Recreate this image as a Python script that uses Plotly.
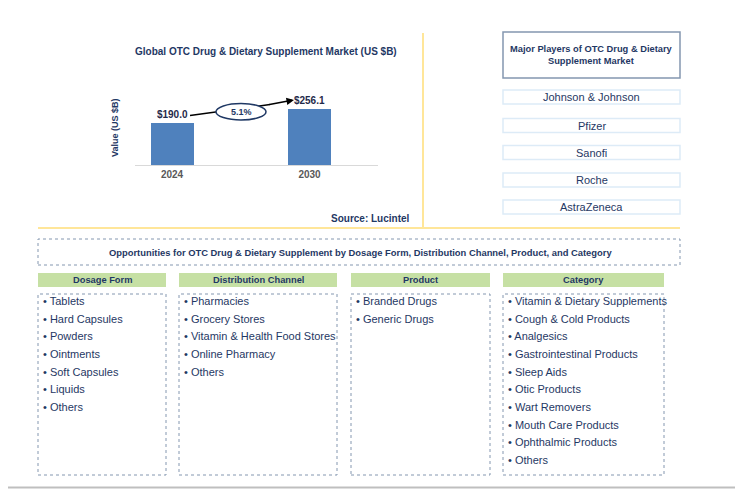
import plotly.graph_objects as go

# ---------------- data ----------------
years = ["2024", "2030"]
values = [190.0, 256.1]
value_labels = ["$190.0", "$256.1"]
cagr_label = "5.1%"
chart_title = "Global OTC Drug & Dietary Supplement Market (US $B)"
y_title = "Value (US $B)"
source_text = "Source: Lucintel"

players_title = "Major Players of OTC Drug & Dietary<br>Supplement Market"
players = ["Johnson & Johnson", "Pfizer", "Sanofi", "Roche", "AstraZeneca"]

opportunities_title = ("Opportunities for OTC Drug & Dietary Supplement by Dosage Form, "
                       "Distribution Channel, Product, and Category")
segment_titles = ["Dosage Form", "Distribution Channel", "Product", "Category"]
dosage_form = ["Tablets", "Hard Capsules", "Powders", "Ointments", "Soft Capsules",
               "Liquids", "Others"]
distribution_channel = ["Pharmacies", "Grocery Stores", "Vitamin & Health Food Stores",
                        "Online Pharmacy", "Others"]
product = ["Branded Drugs", "Generic Drugs"]
category = ["Vitamin & Dietary Supplements", "Cough & Cold Products", "Analgesics",
            "Gastrointestinal Products", "Sleep Aids", "Otic Products", "Wart Removers",
            "Mouth Care Products", "Ophthalmic Products", "Others"]
segments = [dosage_form, distribution_channel, product, category]

# ---------------- layout helpers ----------------
# the page body has an 8px margin, so the figure is shifted by OFF
OFF = 8
W, H = 743 - OFF, 489 - OFF
FONT = "Arial, Liberation Sans, sans-serif"
NARROW = "Liberation Sans Narrow, Arial Narrow, Arial, sans-serif"
NAVY = "#1F3864"


def px(x):
    return (x - OFF) / W


def py(y):
    return 1 - (y - OFF) / H


shapes = []
annotations = []


def rect(x0, y0, x1, y1, line_color, width=1, dash="solid", fill="rgba(0,0,0,0)"):
    shapes.append(dict(type="rect", xref="paper", yref="paper",
                       x0=px(x0), x1=px(x1), y0=py(y1), y1=py(y0),
                       line=dict(color=line_color, width=width, dash=dash),
                       fillcolor=fill, layer="above"))


def line(x0, y0, x1, y1, color, width=1, dash="solid"):
    shapes.append(dict(type="line", xref="paper", yref="paper",
                       x0=px(x0), x1=px(x1), y0=py(y0), y1=py(y1),
                       line=dict(color=color, width=width, dash=dash), layer="above"))


def text(x, y, s, size=11, color=NAVY, bold=False, xanchor="center", angle=0, family=FONT):
    annotations.append(dict(xref="paper", yref="paper", x=px(x), y=py(y),
                            text=f"<b>{s}</b>" if bold else s, showarrow=False,
                            xanchor=xanchor, yanchor="middle", textangle=angle,
                            font=dict(size=size, color=color, family=family)))


fig = go.Figure()

# ---------------- bar chart ----------------
fig.add_trace(go.Bar(
    x=years, y=values, width=0.313, marker=dict(color="#4F81BD", line=dict(width=0)),
    text=[f"<b>{t}</b>" for t in value_labels], textposition="outside",
    textfont=dict(size=10, color="#1F2A4A", family=FONT), cliponaxis=False,
    hoverinfo="skip"))

fig.update_xaxes(domain=[px(134.9), px(378.25)], range=[-0.27, 1.5], type="category",
                 showline=True, linecolor="#D9D9D9", linewidth=1, ticks="",
                 showgrid=False, zeroline=False,
                 tickfont=dict(size=10, color="#595959", family=FONT),
                 tickprefix="<b>", ticksuffix="</b>")
fig.update_yaxes(domain=[py(165), py(76.6)], range=[0, 400], visible=False)

text(266, 51, chart_title, size=10, color=NAVY, bold=True)
text(115, 128, y_title, size=9, color=NAVY, bold=True, angle=-90)
text(412, 218, source_text, size=10, color=NAVY, bold=True, xanchor="right")

# CAGR arrow + ellipse
line(190, 115.5, 270, 104.5, "#000000", width=1.5)
annotations.append(dict(xref="paper", yref="paper", axref="pixel", ayref="pixel",
                        x=px(294), y=py(100), ax=-26, ay=4.8, text="",
                        showarrow=True, arrowhead=2, arrowsize=1, arrowwidth=1.5,
                        arrowcolor="#000000", standoff=0))
shapes.append(dict(type="circle", xref="paper", yref="paper",
                   x0=px(216), x1=px(266), y0=py(120), y1=py(103.5),
                   line=dict(color="#1F3864", width=1.5), fillcolor="white", layer="above"))
text(241, 111.5, cagr_label, size=9, color=NAVY, bold=True)

# separators
line(423, 33, 423, 227, "#FFE699", width=2)
line(38, 228, 680, 228, "#FFE699", width=2)
line(OFF, 487.5, 743, 487.5, "#BFBFBF", width=2)

# ---------------- major players ----------------
rect(503, 32, 680, 78, "#8497B0", width=1.5)
text(591.5, 55, players_title, size=9.3, color=NAVY, bold=True)
player_centers = [97, 125.5, 152.5, 180, 207]
for name, yc in zip(players, player_centers):
    rect(503, yc - 7, 680, yc + 7, "#DDEBF7", width=1.5)
    text(591.5, yc, name, size=11, color=NAVY)

# ---------------- opportunities ----------------
rect(38, 239, 680, 265, "#8497B0", width=1, dash="dot")
text(360, 252, opportunities_title, size=9.4, color=NAVY, bold=True, family=NARROW)

col_x = [(38, 166), (179, 337), (351, 490), (503, 664)]
for (x0, x1), title, items in zip(col_x, segment_titles, segments):
    shapes.append(dict(type="rect", xref="paper", yref="paper",
                       x0=px(x0), x1=px(x1), y0=py(287), y1=py(273),
                       line=dict(width=0), fillcolor="#C6E0A4", layer="above"))
    text((x0 + x1) / 2, 280, title, size=9.3, color=NAVY, bold=True, family=NARROW)
    rect(x0, 294, x1, 475, "#8497B0", width=1, dash="dot")
    for i, it in enumerate(items):
        text(x0 + 2.5, 301 + i * 17.68, "• " + it, size=11, color=NAVY, xanchor="left")

fig.update_layout(
    width=W, height=H, margin=dict(l=0, r=0, t=0, b=0),
    paper_bgcolor="white", plot_bgcolor="white", showlegend=False,
    shapes=shapes, annotations=annotations, bargap=0,
)

fig.write_html("out.html")
